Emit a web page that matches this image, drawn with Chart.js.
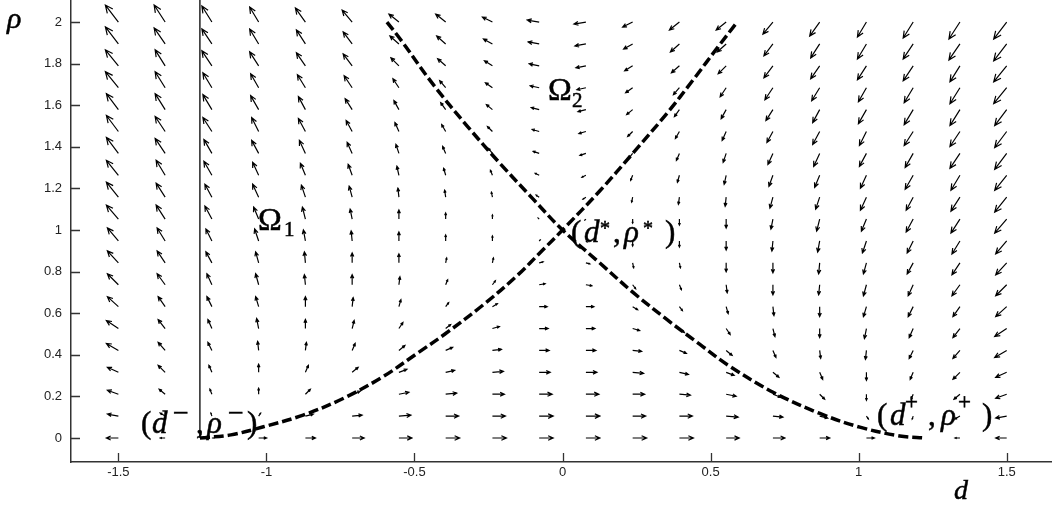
<!DOCTYPE html>
<html><head><meta charset="utf-8">
<script src="https://cdn.jsdelivr.net/npm/chart.js@4.4.1/dist/chart.umd.min.js"></script>
<style>
html,body{margin:0;padding:0;background:#fff;overflow:hidden;width:1052px;height:506px;}
#wrap{position:absolute;left:0;top:-20px;width:1072px;height:526px;}
canvas{display:block;}
</style></head><body>
<div id="wrap"><canvas id="c" width="1072" height="526"></canvas></div>
<script>
// ---- data ----
const dGrid = [-1.5,-1.3421,-1.1842,-1.0263,-0.8684,-0.7105,-0.5526,-0.3947,-0.2368,-0.0789,0.0789,0.2368,0.3947,0.5526,0.7105,0.8684,1.0263,1.1842,1.3421,1.5];
const rhoGrid = [0,0.1053,0.2105,0.3158,0.4211,0.5263,0.6316,0.7368,0.8421,0.9474,1.0526,1.1579,1.2632,1.3684,1.4737,1.5789,1.6842,1.7895,1.8947,2.0];
// field components (quiver units), one row per rho value, one column per d value
const U = [
[-12,-5,2,8,10,12,13,14,14,14,14,14,14,13,12,10,8,2,-5,-11],
[-11,-5,-1,2,8,10,12,13,13,14,14,13,13,12,10,8,2,-1,-5,-11],
[-11,-6,-2,0,5,8,10,11,12,13,13,12,11,10,8,5,0,-2,-6,-11],
[-11,-7,-3,0,3,6,8,9,11,11,11,11,9,8,6,3,0,-3,-7,-11],
[-12,-7,-4,-1,1,3,6,7,9,10,10,9,7,6,3,1,-1,-4,-7,-12],
[-12,-7,-4,-2,0,2,4,5,7,9,9,7,5,4,2,0,-2,-4,-7,-12],
[-11,-7,-5,-3,0,1,2,3,5,8,8,5,3,2,1,0,-3,-5,-7,-11],
[-11,-8,-5,-3,-1,0,1,2,3,6,6,3,2,1,0,-1,-3,-5,-8,-11],
[-11,-8,-6,-3,-1,0,0,1,1,4,4,1,1,0,0,-1,-3,-6,-8,-11],
[-11,-8,-6,-4,-2,-1,0,0,0,1,1,0,0,0,-1,-2,-4,-6,-8,-11],
[-12,-9,-7,-5,-3,-2,0,0,0,-1,-1,0,0,0,-2,-3,-5,-7,-9,-12],
[-12,-9,-7,-6,-4,-3,-1,-1,-1,-3,-3,-1,-1,-1,-3,-4,-6,-7,-9,-12],
[-12,-9,-8,-6,-5,-4,-2,-2,-2,-4,-4,-2,-2,-2,-4,-5,-6,-8,-9,-12],
[-12,-10,-8,-7,-6,-5,-3,-3,-4,-6,-6,-4,-3,-3,-5,-6,-7,-8,-10,-12],
[-12,-10,-9,-7,-7,-6,-4,-4,-5,-7,-7,-5,-4,-4,-6,-7,-7,-9,-10,-12],
[-12,-10,-9,-8,-7,-7,-5,-5,-6,-8,-8,-6,-5,-5,-7,-7,-8,-9,-10,-12],
[-13,-10,-9,-8,-8,-8,-6,-6,-7,-9,-9,-7,-6,-6,-8,-8,-8,-9,-10,-13],
[-13,-10,-10,-9,-9,-9,-8,-8,-8,-10,-10,-8,-8,-8,-9,-9,-9,-10,-10,-13],
[-13,-11,-10,-9,-9,-9,-9,-9,-9,-11,-11,-9,-9,-9,-9,-9,-9,-10,-11,-13],
[-13,-11,-10,-9,-10,-10,-10,-10,-10,-12,-12,-10,-10,-10,-10,-10,-9,-10,-11,-13]
];
const V = [
[0,0,0,0,0,0,0,0,0,0,0,0,0,0,0,0,0,0,0,0],
[2,3,3,3,2,1,1,0,0,0,0,0,0,-1,-1,-2,-3,-3,-3,-2],
[4,5,5,6,5,3,2,1,0,0,0,0,-1,-2,-3,-5,-6,-5,-5,-4],
[5,7,7,8,7,5,3,2,1,0,0,-1,-2,-3,-5,-7,-8,-7,-7,-5],
[7,8,8,9,8,7,5,3,1,0,0,-1,-3,-5,-7,-8,-9,-8,-8,-7],
[8,9,9,10,9,8,6,4,2,0,0,-2,-4,-6,-8,-9,-10,-9,-9,-8],
[10,10,10,10,10,9,7,4,3,0,0,-3,-4,-7,-9,-10,-10,-10,-10,-10],
[11,11,11,11,10,10,8,5,4,1,-1,-4,-5,-8,-10,-10,-11,-11,-11,-11],
[12,12,11,11,11,10,9,5,5,1,-1,-5,-5,-9,-10,-11,-11,-11,-12,-12],
[13,13,12,12,11,10,9,6,5,1,-1,-5,-6,-9,-10,-11,-12,-12,-13,-13],
[14,14,13,12,12,10,9,6,4,1,-1,-4,-6,-9,-10,-12,-12,-13,-14,-14],
[15,14,13,13,12,11,9,7,5,2,-2,-5,-7,-9,-11,-12,-13,-13,-14,-15],
[15,15,14,13,12,11,9,7,5,2,-2,-5,-7,-9,-11,-12,-13,-14,-15,-15],
[16,15,14,13,13,11,9,7,5,2,-2,-5,-7,-9,-11,-13,-13,-14,-15,-16],
[16,15,14,14,13,11,9,7,5,2,-2,-5,-7,-9,-11,-13,-14,-14,-15,-16],
[16,16,15,14,13,11,9,7,5,2,-2,-5,-7,-9,-11,-13,-14,-15,-16,-16],
[16,16,15,14,13,12,9,7,5,2,-2,-5,-7,-9,-12,-13,-14,-15,-16,-16],
[16,16,15,14,13,12,8,7,5,2,-2,-5,-7,-8,-12,-13,-14,-15,-16,-16],
[17,16,15,15,14,12,8,8,5,2,-2,-5,-8,-8,-12,-14,-15,-15,-16,-17],
[17,17,16,15,14,12,8,8,5,2,-2,-5,-8,-8,-12,-14,-15,-16,-17,-17]
];
const risingD   = [-1.2247,-1.12,-1.01,-0.876,-0.741,-0.606,-0.488,-0.397,-0.268,-0.154,-0.066,0,0.127,0.238,0.352,0.44,0.53,0.59];
const risingRho = [0,0.015,0.054,0.11,0.19,0.295,0.41,0.50,0.64,0.78,0.905,1.0,1.19,1.37,1.56,1.72,1.89,2.0];
const fallingD   = [-0.593,-0.549,-0.437,-0.322,-0.211,-0.1,0,0.127,0.238,0.352,0.464,0.559,0.711,0.869,1.004,1.139,1.2247];
const fallingRho = [2.0,1.92,1.70,1.50,1.32,1.15,1.0,0.84,0.70,0.57,0.45,0.35,0.22,0.118,0.052,0.01,0];
const separatorD = [-1.2247,-1.2247];
const separatorRho = [0,2.3];
const xTicks = [-1.5,-1,-0.5,0,0.5,1,1.5];
const xTickLabels = ['-1.5','-1','-0.5','0','0.5','1','1.5'];
const yTicks = [0,0.2,0.4,0.6,0.8,1,1.2,1.4,1.6,1.8,2];
const yTickLabels = ['0','0.2','0.4','0.6','0.8','1','1.2','1.4','1.6','1.8','2'];

// ---- styling / layout ----
const quiver = {sx:0.003377, sy:0.004808, headBack:0.36, headSpread:0.45};
const serif = '"Liberation Serif","DejaVu Serif",serif';
const labels = [
  {t:'ρ', f:'italic 30px '+serif, d:-1.8761, r:1.971},
  {t:'d', f:'italic 28px '+serif, d:1.3222, r:-0.2933},
  {t:'Ω', f:'32px '+serif, d:-1.0284, r:1.0},
  {t:'1', f:'21px '+serif, d:-0.9405, r:0.971},
  {t:'Ω', f:'32px '+serif, d:-0.0490, r:1.625},
  {t:'2', f:'21px '+serif, d:0.0320, r:1.591},
  {t:'(', f:'31px '+serif, d:0.0287, r:0.9423},
  {t:'d', f:'italic 31px '+serif, d:0.0726, r:0.9423},
  {t:'*', f:'20px '+serif, d:0.1266, r:0.9760},
  {t:',', f:'31px '+serif, d:0.1706, r:0.9423},
  {t:'ρ', f:'italic 31px '+serif, d:0.2077, r:0.9423},
  {t:'*', f:'20px '+serif, d:0.2719, r:0.9760},
  {t:')', f:'31px '+serif, d:0.3462, r:0.9423},
  {t:'(', f:'31px '+serif, d:-1.4235, r:0.024},
  {t:'d', f:'italic 31px '+serif, d:-1.3863, r:0.024},
  {t:'−', f:'28px '+serif, d:-1.3154, r:0.077},
  {t:',', f:'31px '+serif, d:-1.2378, r:0.024},
  {t:'ρ', f:'italic 31px '+serif, d:-1.2006, r:0.024},
  {t:'−', f:'28px '+serif, d:-1.1297, r:0.077},
  {t:')', f:'31px '+serif, d:-1.0655, r:0.024},
  {t:'(', f:'31px '+serif, d:1.0621, r:0.0625},
  {t:'d', f:'italic 31px '+serif, d:1.1061, r:0.0625},
  {t:'+', f:'23px '+serif, d:1.1567, r:0.139},
  {t:',', f:'31px '+serif, d:1.2344, r:0.0625},
  {t:'ρ', f:'italic 31px '+serif, d:1.2783, r:0.0625},
  {t:'+', f:'23px '+serif, d:1.3357, r:0.139},
  {t:')', f:'31px '+serif, d:1.4168, r:0.0625}
];

const fieldData = [];
rhoGrid.forEach((r,j)=>dGrid.forEach((d,i)=>fieldData.push({x:d,y:r,u:U[j][i],v:V[j][i]})));
const pts = (xs,ys)=>xs.map((x,i)=>({x:x,y:ys[i]}));

const quiverPlugin = {
  id:'quiver',
  beforeDatasetsDraw(chart){
    const xs=chart.scales.x, ys=chart.scales.y, ctx=chart.ctx;
    ctx.save();
    ctx.strokeStyle='#000'; ctx.lineWidth=1.2; ctx.lineJoin='miter';
    ctx.beginPath();
    chart.data.datasets[0].data.forEach(p=>{
      if(!p.u && !p.v) return;
      const x0=xs.getPixelForValue(p.x), y0=ys.getPixelForValue(p.y);
      const x1=xs.getPixelForValue(p.x+p.u*quiver.sx), y1=ys.getPixelForValue(p.y+p.v*quiver.sy);
      const dx=x1-x0, dy=y1-y0, a=quiver.headBack, b=quiver.headSpread;
      ctx.moveTo(x0,y0); ctx.lineTo(x1,y1);
      ctx.moveTo(x1-a*(dx+b*dy), y1-a*(dy-b*dx));
      ctx.lineTo(x1,y1);
      ctx.lineTo(x1-a*(dx-b*dy), y1-a*(dy+b*dx));
    });
    ctx.stroke();
    ctx.restore();
  },
  afterDraw(chart){
    const xs=chart.scales.x, ys=chart.scales.y, ctx=chart.ctx, ca=chart.chartArea;
    ctx.save();
    ctx.strokeStyle='#333'; ctx.lineWidth=1.3;
    ctx.beginPath();
    xs.ticks.forEach(t=>{const x=Math.round(xs.getPixelForValue(t.value))+0.5; ctx.moveTo(x,ca.bottom); ctx.lineTo(x,ca.bottom-9);});
    ys.ticks.forEach(t=>{const y=Math.round(ys.getPixelForValue(t.value))+0.5; ctx.moveTo(ca.left,y); ctx.lineTo(ca.left+9,y);});
    ctx.stroke();
    ctx.fillStyle='#000'; ctx.strokeStyle='#000'; ctx.lineWidth=0.5;
    ctx.textBaseline='alphabetic'; ctx.textAlign='left';
    labels.forEach(l=>{
      ctx.font=l.f;
      const x=xs.getPixelForValue(l.d), y=ys.getPixelForValue(l.r);
      ctx.fillText(l.t,x,y); ctx.strokeText(l.t,x,y);
    });
    ctx.restore();
  }
};

const tickFont = {family:'"Liberation Sans", Arial, sans-serif', size:13};
const curveStyle = {showLine:true, pointRadius:0, borderColor:'#000', borderWidth:3.5, borderDash:[10,4], tension:0.35, fill:false};
new Chart(document.getElementById('c'), {
  type:'scatter',
  data:{datasets:[
    {label:'field', data:fieldData, pointRadius:0, showLine:false},
    Object.assign({label:'rising', data:pts(risingD,risingRho)}, curveStyle),
    Object.assign({label:'falling', data:pts(fallingD,fallingRho)}, curveStyle),
    {label:'separator', data:pts(separatorD,separatorRho), showLine:true, pointRadius:0, borderColor:'#222', borderWidth:1.5, fill:false}
  ]},
  options:{
    responsive:false, animation:false, events:[],
    layout:{padding:{top:20,right:20,left:0,bottom:0}},
    plugins:{legend:{display:false}, tooltip:{enabled:false}},
    scales:{
      x:{type:'linear', min:-1.66, max:1.653,
         afterBuildTicks:s=>{s.ticks=xTicks.map(v=>({value:v}));},
         afterFit:s=>{s.height=44;},
         ticks:{callback:(v,i)=>xTickLabels[i], font:tickFont, color:'#222', padding:3, maxRotation:0, autoSkip:false},
         grid:{display:false, drawTicks:false},
         border:{display:true, color:'#333', width:1.5}},
      y:{type:'linear', min:-0.1154, max:2.106,
         afterBuildTicks:s=>{s.ticks=yTicks.map(v=>({value:v}));},
         afterFit:s=>{s.width=71;},
         ticks:{callback:(v,i)=>yTickLabels[i], font:tickFont, color:'#222', padding:9, autoSkip:false},
         grid:{display:false, drawTicks:false},
         border:{display:true, color:'#333', width:1.5}}
    }
  },
  plugins:[quiverPlugin]
});
</script>
</body></html>
